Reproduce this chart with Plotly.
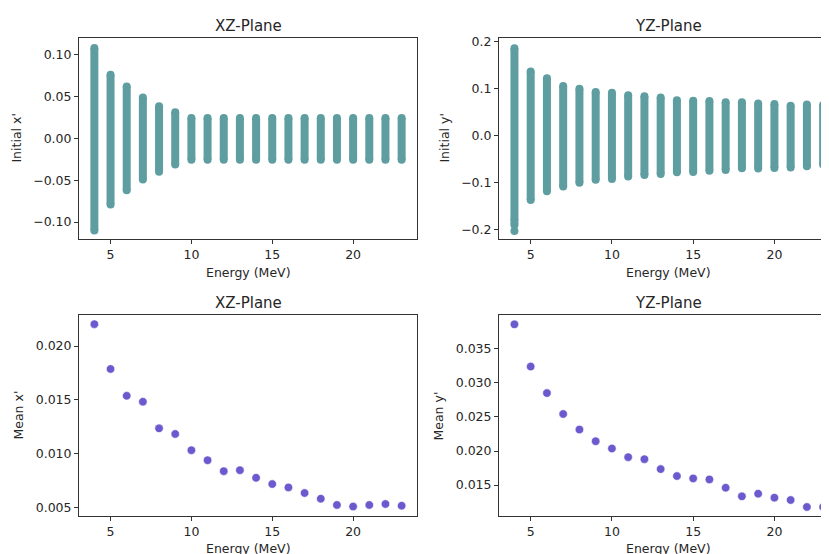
import plotly.graph_objects as go

energy = list(range(4, 24))

# Initial x' spread per energy (XZ-plane): max and min of the dense point bands
xz_max = [0.108, 0.076, 0.062, 0.049, 0.0385, 0.0313, 0.0245, 0.0245, 0.0245, 0.0245,
          0.0245, 0.0245, 0.0245, 0.0245, 0.0245, 0.0245, 0.0245, 0.0245, 0.0245, 0.0245]
xz_min = [-0.110, -0.079, -0.062, -0.049, -0.040, -0.0313, -0.0255, -0.0255, -0.0255, -0.0255,
          -0.0255, -0.0255, -0.0255, -0.0255, -0.0255, -0.0255, -0.0255, -0.0255, -0.0255, -0.0255]

# Initial y' spread per energy (YZ-plane)
yz_max = [0.1865, 0.137, 0.1227, 0.106, 0.100, 0.093, 0.0915, 0.0865, 0.0844, 0.0816,
          0.0759, 0.0745, 0.0738, 0.0716, 0.0716, 0.0688, 0.0674, 0.0638, 0.0667, 0.066]
yz_min = [-0.180, -0.137, -0.118, -0.108, -0.100, -0.094, -0.092, -0.087, -0.0837, -0.0816,
          -0.078, -0.0773, -0.0745, -0.073, -0.0695, -0.070, -0.0688, -0.0674, -0.0652, -0.0617]
yz_outlier_e = [4, 4, 4]
yz_outlier_v = [-0.186, -0.190, -0.203]

# Mean values
mean_x = [0.02203, 0.01787, 0.01538, 0.01483, 0.01236, 0.01184, 0.01033, 0.0094, 0.00839, 0.00848,
          0.00777, 0.00719, 0.00688, 0.00636, 0.00583, 0.00525, 0.0051, 0.00525, 0.00534, 0.00518]
mean_y = [0.03861, 0.03241, 0.02851, 0.02544, 0.02315, 0.02144, 0.02037, 0.0191, 0.0188, 0.01734,
          0.01632, 0.01598, 0.01583, 0.01461, 0.01334, 0.01373, 0.01315, 0.0128, 0.01178, 0.01178]

titles = ["XZ-Plane", "YZ-Plane", "XZ-Plane", "YZ-Plane"]
ylabels = ["Initial x'", "Initial y'", "Mean x'", "Mean y'"]
xlabel = "Energy (MeV)"

x_ticks = [5, 10, 15, 20]
yt_tl = [-0.10, -0.05, 0.0, 0.05, 0.10]
yt_tl_txt = ["\u22120.10", "\u22120.05", "0.00", "0.05", "0.10"]
yt_tr = [-0.2, -0.1, 0.0, 0.1, 0.2]
yt_tr_txt = ["\u22120.2", "\u22120.1", "0.0", "0.1", "0.2"]
yt_bl = [0.005, 0.010, 0.015, 0.020]
yt_bl_txt = ["0.005", "0.010", "0.015", "0.020"]
yt_br = [0.015, 0.020, 0.025, 0.030, 0.035]
yt_br_txt = ["0.015", "0.020", "0.025", "0.030", "0.035"]

TEAL = "#5F9EA0"
PURPLE = "#6A5ACD"
FONT = "DejaVu Sans"
TXT = "#262626"

# the page body adds an 8px margin, so the figure starts at (8, 8) on screen
OFF = 8
W, H = 829 - OFF, 554 - OFF


def band_xy(es, lo, hi):
    xs, ys = [], []
    for e, a, b in zip(es, lo, hi):
        xs += [e, e, None]
        ys += [a, b, None]
    return xs, ys


fig = go.Figure()

bx, by = band_xy(energy, xz_min, xz_max)
fig.add_trace(go.Scatter(x=bx, y=by, mode="lines+markers", xaxis="x", yaxis="y",
                         line=dict(color=TEAL, width=8), marker=dict(color=TEAL, size=8),
                         showlegend=False, hoverinfo="skip"))
bx, by = band_xy(energy, yz_min, yz_max)
fig.add_trace(go.Scatter(x=bx, y=by, mode="lines+markers", xaxis="x2", yaxis="y2",
                         line=dict(color=TEAL, width=8), marker=dict(color=TEAL, size=8),
                         showlegend=False, hoverinfo="skip"))
fig.add_trace(go.Scatter(x=yz_outlier_e, y=yz_outlier_v, mode="markers", xaxis="x2", yaxis="y2",
                         marker=dict(color=TEAL, size=8), showlegend=False))
fig.add_trace(go.Scatter(x=energy, y=mean_x, mode="markers", xaxis="x3", yaxis="y3",
                         marker=dict(color=PURPLE, size=8.5, line=dict(color="white", width=0.6)),
                         showlegend=False))
fig.add_trace(go.Scatter(x=energy, y=mean_y, mode="markers", xaxis="x4", yaxis="y4",
                         marker=dict(color=PURPLE, size=8.5, line=dict(color="white", width=0.6)),
                         showlegend=False))

# screen pixel geometry (from the reference)
L1, R1 = 79, 417
L2, R2 = 499, 829
T1, B1 = 34, 237
T2, B2 = 313, 516


def px(x):
    return (x - OFF) / W


def py(y):
    return 1 - (y - OFF) / H


axis_common = dict(showgrid=False, zeroline=False, showline=True, linecolor="#333333",
                   linewidth=1, ticks="outside", ticklen=4, tickwidth=1, tickcolor="#333333",
                   tickfont=dict(family=FONT, size=12.5, color=TXT))

xr_left = [3.05, 23.95]
xr_right = [3.05, 23.36]

layout = dict(
    width=W, height=H, margin=dict(l=0, r=0, t=0, b=0),
    paper_bgcolor="white", plot_bgcolor="white",
    xaxis=dict(domain=[px(L1), px(R1)], anchor="y", range=xr_left, tickvals=x_ticks, mirror=True, **axis_common),
    yaxis=dict(domain=[py(B1), py(T1)], anchor="x", range=[-0.1206, 0.1202], tickvals=yt_tl, ticktext=yt_tl_txt, mirror=True, **axis_common),
    xaxis2=dict(domain=[px(L2), min(1.0, px(R2))], anchor="y2", range=xr_right, tickvals=x_ticks, mirror=True, **axis_common),
    yaxis2=dict(domain=[py(B1), py(T1)], anchor="x2", range=[-0.2207, 0.2087], tickvals=yt_tr, ticktext=yt_tr_txt, mirror=False, **axis_common),
    xaxis3=dict(domain=[px(L1), px(R1)], anchor="y3", range=xr_left, tickvals=x_ticks, mirror=True, **axis_common),
    yaxis3=dict(domain=[py(B2), py(T2)], anchor="x3", range=[0.0042, 0.02290], tickvals=yt_bl, ticktext=yt_bl_txt, mirror=True, **axis_common),
    xaxis4=dict(domain=[px(L2), min(1.0, px(R2))], anchor="y4", range=xr_right, tickvals=x_ticks, mirror=True, **axis_common),
    yaxis4=dict(domain=[py(B2), py(T2)], anchor="x4", range=[0.01041, 0.04002], tickvals=yt_br, ticktext=yt_br_txt, mirror=False, **axis_common),
)
fig.update_layout(**layout)

annots = []
# subplot titles
title_pos = [((L1 + R1) / 2, 22), (668.5, 22), ((L1 + R1) / 2, 301), (668.5, 301)]
for t, (cx, cy) in zip(titles, title_pos):
    annots.append(dict(text=t, x=px(cx), y=py(cy), xref="paper", yref="paper",
                       xanchor="center", yanchor="middle", showarrow=False,
                       font=dict(family=FONT, size=15, color=TXT)))
# x labels
for cx, cy in [((L1 + R1) / 2, 270), (668.5, 270), ((L1 + R1) / 2, 548.5), (668.5, 548.5)]:
    annots.append(dict(text=xlabel, x=px(cx), y=py(cy), xref="paper", yref="paper",
                       xanchor="center", yanchor="middle", showarrow=False,
                       font=dict(family=FONT, size=12.5, color=TXT)))
# y labels
ylab_pos = [(17, (T1 + B1) / 2), (445, (T1 + B1) / 2), (19, (T2 + B2) / 2), (439, (T2 + B2) / 2)]
for t, (cx, cy) in zip(ylabels, ylab_pos):
    annots.append(dict(text=t, x=px(cx), y=py(cy), xref="paper", yref="paper",
                       xanchor="center", yanchor="middle", showarrow=False, textangle=-90,
                       font=dict(family=FONT, size=12.5, color=TXT)))
fig.update_layout(annotations=annots)

fig.write_html("out.html")
